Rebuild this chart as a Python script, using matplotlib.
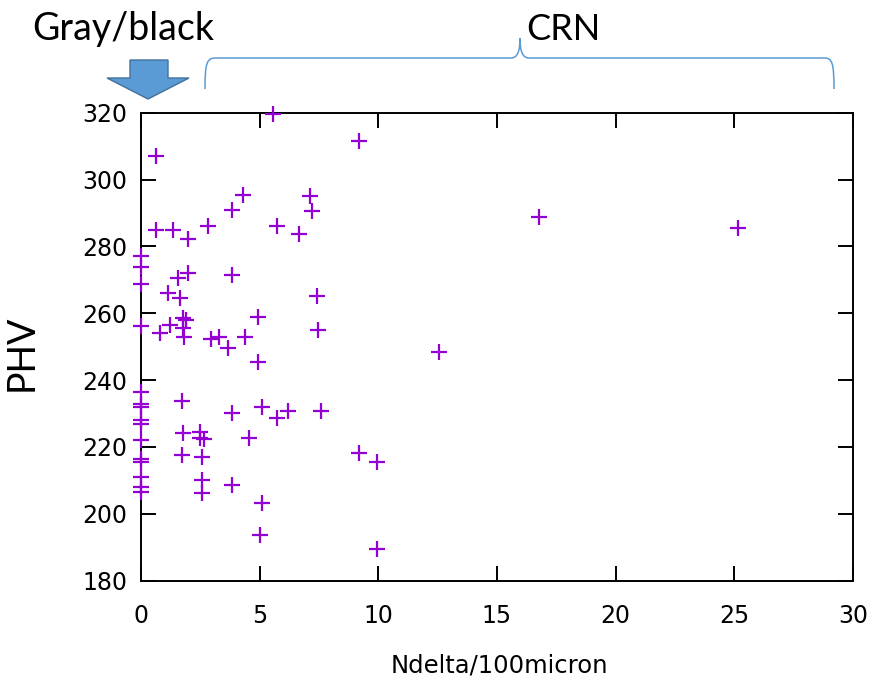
"""
PHV vs Ndelta/100micron scatter, with the slide annotations on top
(Gray/black arrow and CRN brace).
"""

import matplotlib
matplotlib.use("Agg")
import matplotlib.pyplot as plt
from matplotlib.path import Path
from matplotlib.patches import PathPatch, Polygon

# ========== data ==========
# points at Ndelta = 0 (gray/black)
gray_y = [277.1, 273.9, 268.7, 256.2, 236.5, 232.8, 232.0, 228.1, 226.9,
          222.1, 216.3, 215.5, 211.1, 207.9, 206.6]

# points with Ndelta > 0 (CRN)
crn_x = [0.63, 5.55, 9.2,
         0.63, 1.36, 2.0, 2.81, 3.82, 4.29, 5.75, 6.66, 7.12, 7.19,
         16.77, 25.17,
         2.0, 1.54, 3.82, 1.15, 1.64, 4.92, 7.4,
         1.78, 1.9, 1.22, 0.8, 1.78, 1.82, 2.95, 3.29, 3.65, 4.38, 7.47,
         4.94, 12.57,
         1.71, 3.82, 5.09, 5.72, 6.21, 7.57,
         1.78, 2.49, 2.5, 2.65, 4.55,
         1.71, 2.56, 2.56, 2.56, 3.82,
         5.09, 5.01, 9.2, 9.93, 9.93]
crn_y = [307.0, 319.6, 311.6,
         285.0, 285.0, 282.1, 286.1, 290.9, 295.4, 286.1, 283.6, 295.2, 290.7,
         288.7, 285.4,
         272.0, 270.5, 271.4, 266.0, 264.5, 258.8, 265.3,
         258.6, 258.0, 256.5, 254.2, 255.5, 252.8, 252.3, 252.8, 249.5, 253.0, 255.0,
         245.5, 248.3,
         233.9, 230.1, 232.1, 228.6, 230.8, 230.8,
         224.3, 224.6, 222.8, 222.4, 222.8,
         217.6, 216.9, 210.1, 206.3, 208.6,
         203.3, 193.7, 218.3, 215.6, 189.6]

x_ticks = [0, 5, 10, 15, 20, 25, 30]
y_ticks = [180, 200, 220, 240, 260, 280, 300, 320]

PURPLE = "#9400d3"
BLUE = "#5b9bd5"

W, H = 876, 684
fig = plt.figure(figsize=(W / 100, H / 100), dpi=100)
ax = fig.add_axes([141 / W, 1 - 580.7 / H, 712 / W, 468 / H])

x_all = [0.0] * len(gray_y) + crn_x
y_all = gray_y + crn_y
ax.plot(x_all, y_all, linestyle="none", marker="+", markersize=11.5,
        markeredgewidth=1.6, color=PURPLE, clip_on=False, zorder=3)

ax.set_xlim(0, 30)
ax.set_ylim(180, 320)
ax.set_xticks(x_ticks)
ax.set_yticks(y_ticks)
ax.tick_params(direction="in", length=10.5, width=1.4, top=True, right=True,
               labelsize=17, colors="black")
ax.tick_params(axis="x", pad=17)
ax.tick_params(axis="y", pad=10)
for sp in ax.spines.values():
    sp.set_linewidth(1.4)

ax.set_xlabel("Ndelta/100micron", fontsize=17.5)
ax.xaxis.set_label_coords(0.503, -0.155)
ax.set_ylabel("PHV", fontsize=27, family=["Lato", "DejaVu Sans"])
ax.yaxis.set_label_coords(-0.142, 0.487)

# ========== slide annotations (pixel coords -> figure fraction) ==========
def px(x, y):
    return (x / W, 1 - y / H)

fig.text(*px(32, 40), "Gray/black", fontsize=27, family=["Lato", "DejaVu Sans"],
         va="baseline", ha="left")
fig.text(*px(526, 40), "CRN", fontsize=26, family=["Lato", "DejaVu Sans"],
         va="baseline", ha="left")

# block arrow pointing down at x = 0
arrow_pts = [px(130, 60), px(168, 60), px(168, 78), px(189, 78),
             px(148, 99), px(107, 78), px(130, 78)]
fig.patches.append(Polygon(arrow_pts, closed=True, facecolor=BLUE,
                           edgecolor="#41719c", linewidth=1,
                           transform=fig.transFigure))

# curly brace over the CRN range
verts = [px(205, 89), px(205, 62), px(207, 58), px(216, 58),
         px(511, 58),
         px(518, 58), px(520, 50), px(520, 38),
         px(520, 50), px(522, 58), px(529, 58),
         px(824, 58),
         px(832, 58), px(834, 62), px(834, 89)]
codes = [Path.MOVETO, Path.CURVE4, Path.CURVE4, Path.CURVE4,
         Path.LINETO,
         Path.CURVE4, Path.CURVE4, Path.CURVE4,
         Path.CURVE4, Path.CURVE4, Path.CURVE4,
         Path.LINETO,
         Path.CURVE4, Path.CURVE4, Path.CURVE4]
fig.patches.append(PathPatch(Path(verts, codes), facecolor="none",
                             edgecolor=BLUE, linewidth=1.1,
                             transform=fig.transFigure))

fig.savefig("out.png", dpi=100)
